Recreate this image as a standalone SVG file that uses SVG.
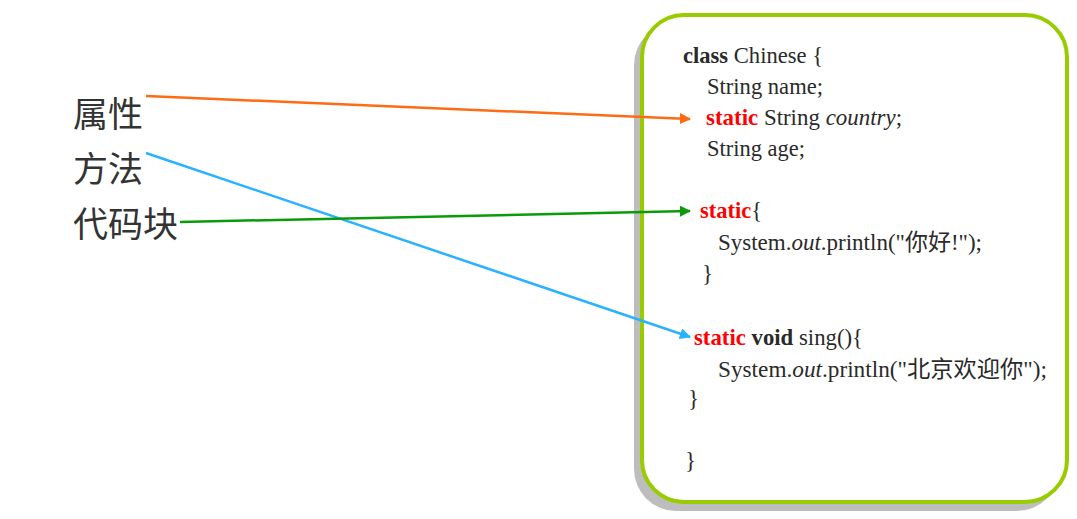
<svg xmlns="http://www.w3.org/2000/svg" width="1077" height="519" viewBox="0 0 1077 519">
<style>
.lbl{font-family:"Noto Sans CJK SC","Noto Sans",sans-serif;font-size:35px;fill:#333}
.code{font-family:"Liberation Serif","Noto Sans CJK SC",serif;font-size:23px;fill:#2a2a2a}
.kw{fill:#ff0000;font-weight:bold}
.b{font-weight:bold}
.i{font-style:italic}
</style>
<defs>
<marker id="aO" viewBox="0 0 10 10" refX="9" refY="5" markerWidth="4.5" markerHeight="4.5" orient="auto"><path d="M0,0 L10,5 L0,10 z" fill="#ff6a13"/></marker>
<marker id="aG" viewBox="0 0 10 10" refX="9" refY="5" markerWidth="4.5" markerHeight="4.5" orient="auto"><path d="M0,0 L10,5 L0,10 z" fill="#0a9a0a"/></marker>
<marker id="aB" viewBox="0 0 10 10" refX="9" refY="5" markerWidth="4.5" markerHeight="4.5" orient="auto"><path d="M0,0 L10,5 L0,10 z" fill="#29b2ff"/></marker>
</defs>
<rect width="1077" height="519" fill="#fff"/>
<g id="box">
<rect x="634" y="23" width="425" height="488" rx="42" fill="#bdbdbd"/>
<rect x="642" y="15" width="425" height="487" rx="42" fill="#fff" stroke="#99cc00" stroke-width="4"/>
</g>
<g id="code">
<text class="code" x="683" y="63" textLength="140" lengthAdjust="spacingAndGlyphs"><tspan class="b">class</tspan> Chinese {</text>
<text class="code" x="707" y="94" textLength="116" lengthAdjust="spacingAndGlyphs">String name;</text>
<text class="code" x="706" y="125" textLength="196" lengthAdjust="spacingAndGlyphs"><tspan class="kw">static</tspan> String <tspan class="i">country</tspan>;</text>
<text class="code" x="707" y="156" textLength="98" lengthAdjust="spacingAndGlyphs">String age;</text>
<text class="code" x="700" y="218" textLength="62" lengthAdjust="spacingAndGlyphs"><tspan class="kw">static</tspan>{</text>
<text class="code" x="718" y="250" textLength="264" lengthAdjust="spacingAndGlyphs">System.<tspan class="i">out</tspan>.println("你好!");</text>
<text class="code" x="702" y="281">}</text>
<text class="code" x="694" y="345" textLength="169" lengthAdjust="spacingAndGlyphs"><tspan class="kw">static</tspan> <tspan class="b">void</tspan> sing(){</text>
<text class="code" x="718" y="377" textLength="329" lengthAdjust="spacingAndGlyphs">System.<tspan class="i">out</tspan>.println("北京欢迎你");</text>
<text class="code" x="688" y="406">}</text>
<text class="code" x="685" y="468">}</text>
</g>
<g id="n1"><text class="lbl" x="73" y="127">属性</text></g>
<g id="n2"><text class="lbl" x="73" y="182">方法</text></g>
<g id="n3"><text class="lbl" x="73" y="237">代码块</text></g>
<g id="connectors" fill="none" stroke-width="2.5">
<line x1="146" y1="96" x2="690" y2="119" stroke="#ff6a13" marker-end="url(#aO)"/>
<line x1="146" y1="153" x2="690" y2="337" stroke="#29b2ff" marker-end="url(#aB)"/>
<line x1="180" y1="222" x2="690" y2="211" stroke="#0a9a0a" marker-end="url(#aG)"/>
</g>
</svg>
